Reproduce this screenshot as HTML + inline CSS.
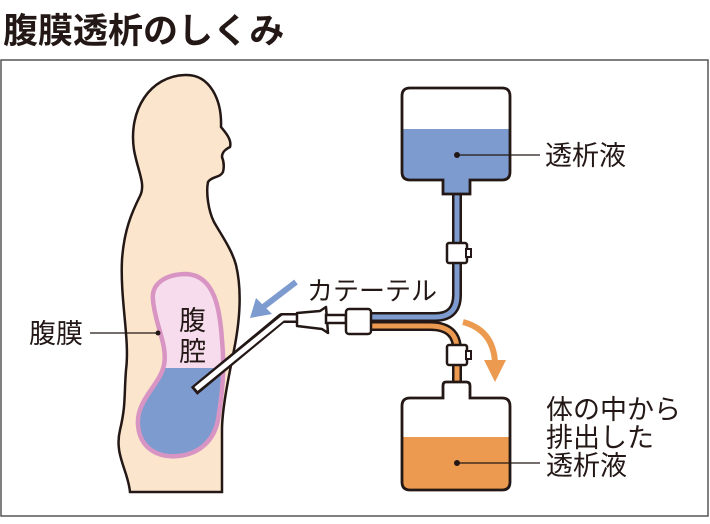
<!DOCTYPE html>
<html><head><meta charset="utf-8"><style>
body{margin:0;background:#fff;width:710px;height:524px;overflow:hidden}
svg{display:block}
text{font-family:"Liberation Sans","Noto Sans CJK JP",sans-serif;fill:#231815}
</style></head><body>
<svg width="710" height="524" viewBox="0 0 710 524">
<text x="3" y="43" font-size="35" font-weight="bold">腹膜透析のしくみ</text>
<rect x="1" y="60" width="707" height="456" fill="none" stroke="#555" stroke-width="1.5"/>
<!-- body -->
<path d="M130 492 C128 470 114 455 120 430 C126 405 124 395 126 370 C130 340 120 300 122 260 C124 230 132 212 140 196 C146 184 138 172 134 150 C128 110 150 76 185 75 C210 74 222 100 221 127 C226 133 232 140 230 147 C224 150 222 153 222 157 C224 162 224 168 223 172 C220 178 212 176 208 182 C206 192 208 210 214 222 C222 236 232 250 236 265 C242 290 240 320 234 350 C228 380 222 410 222 430 C222 460 222 480 222 492 Z" fill="#fbe5cc" stroke="#231815" stroke-width="2.5"/>
<!-- peritoneum -->
<defs><clipPath id="pc"><path d="M187 274 C165 274 151 284 153 300 C155 325 168 345 164 365 C160 385 136 400 138 425 C140 450 160 458 178 456 C200 454 214 440 218 420 C222 395 225 370 222 340 C220 310 215 276 187 274 Z"/></clipPath></defs>
<g clip-path="url(#pc)"><rect x="130" y="270" width="100" height="98" fill="#f6dcec"/><rect x="130" y="368" width="100" height="100" fill="#7d9bcf"/></g>
<path d="M187 274 C165 274 151 284 153 300 C155 325 168 345 164 365 C160 385 136 400 138 425 C140 450 160 458 178 456 C200 454 214 440 218 420 C222 395 225 370 222 340 C220 310 215 276 187 274 Z" fill="none" stroke="#d895c4" stroke-width="4.5"/>
<text x="179" y="330" font-size="27">腹</text>
<text x="179" y="361" font-size="27">腔</text>
<text x="29" y="343" font-size="27">腹膜</text>
<line x1="90" y1="333" x2="158" y2="333" stroke="#231815" stroke-width="1.2"/>
<circle cx="158" cy="333" r="2.5" fill="#231815"/>
<!-- catheter tube -->
<path d="M194 391 L282 318 L300 318" fill="none" stroke="#231815" stroke-width="10" stroke-linejoin="round"/>
<path d="M196 389 L283 318 L300 318" fill="none" stroke="#fff" stroke-width="5" stroke-linejoin="round"/>
<path d="M297 313 L320 311 L326 307 L328 333 L322 329 L297 326 Z" fill="#fff" stroke="#231815" stroke-width="2.5" stroke-linejoin="round"/>
<rect x="326" y="315" width="20" height="8" fill="#fff" stroke="#231815" stroke-width="2.5"/>
<!-- blue arrow -->
<line x1="296" y1="282" x2="262" y2="308" stroke="#7d9bcf" stroke-width="6"/>
<polygon points="250,318 256,298 272,314" fill="#7d9bcf"/>
<text x="307" y="300" font-size="26">カテーテル</text>
<!-- tubes -->
<path d="M457 195 L457 295 Q457 317 435 317 L370 317" fill="none" stroke="#231815" stroke-width="10"/>
<path d="M457 195 L457 295 Q457 317 435 317 L370 317" fill="none" stroke="#7d9bcf" stroke-width="5"/>
<path d="M370 326 L430 326 Q457 326 457 350 L457 385" fill="none" stroke="#231815" stroke-width="10"/>
<path d="M370 326 L430 326 Q457 326 457 350 L457 385" fill="none" stroke="#ec9a4f" stroke-width="5"/>
<rect x="346" y="309" width="25" height="25" rx="3" fill="#fff" stroke="#231815" stroke-width="2.5"/>
<rect x="447" y="243" width="20" height="20" rx="2" fill="#fff" stroke="#231815" stroke-width="2.5"/>
<rect x="466" y="249" width="5" height="8" fill="#fff" stroke="#231815" stroke-width="2"/>
<rect x="447" y="345" width="20" height="20" rx="2" fill="#fff" stroke="#231815" stroke-width="2.5"/>
<rect x="466" y="351" width="5" height="8" fill="#fff" stroke="#231815" stroke-width="2"/>
<!-- top bag -->
<defs><clipPath id="tb"><path d="M410 88 L502 88 Q510 88 510 96 L510 172 Q510 180 502 180 L470 180 L470 194 L443 194 L443 180 L410 180 Q402 180 402 172 L402 96 Q402 88 410 88 Z"/></clipPath>
<clipPath id="bb"><path d="M446 382 L466 382 Q470 382 470 386 L470 398 L502 398 Q510 398 510 406 L510 482 Q510 490 502 490 L410 490 Q402 490 402 482 L402 406 Q402 398 410 398 L443 398 L443 386 Q443 382 446 382 Z"/></clipPath></defs>
<g clip-path="url(#tb)"><rect x="400" y="80" width="115" height="120" fill="#fff"/><rect x="400" y="129" width="115" height="70" fill="#7d9bcf"/></g>
<path d="M410 88 L502 88 Q510 88 510 96 L510 172 Q510 180 502 180 L470 180 L470 194 L443 194 L443 180 L410 180 Q402 180 402 172 L402 96 Q402 88 410 88 Z" fill="none" stroke="#231815" stroke-width="2.8"/>
<circle cx="457" cy="155" r="3" fill="#231815"/><line x1="457" y1="155" x2="540" y2="155" stroke="#231815" stroke-width="1.2"/>
<text x="545" y="165" font-size="27">透析液</text>
<!-- bottom bag -->
<g clip-path="url(#bb)"><rect x="400" y="378" width="115" height="115" fill="#fff"/><rect x="400" y="437" width="115" height="60" fill="#ec9a4f"/></g>
<path d="M446 382 L466 382 Q470 382 470 386 L470 398 L502 398 Q510 398 510 406 L510 482 Q510 490 502 490 L410 490 Q402 490 402 482 L402 406 Q402 398 410 398 L443 398 L443 386 Q443 382 446 382 Z" fill="none" stroke="#231815" stroke-width="2.8"/>
<circle cx="457" cy="463" r="3" fill="#231815"/><line x1="457" y1="463" x2="540" y2="463" stroke="#231815" stroke-width="1.2"/>
<text x="546" y="419" font-size="27">体の中から</text>
<text x="546" y="447" font-size="27">排出した</text>
<text x="546" y="475" font-size="27">透析液</text>
<!-- orange arrow -->
<path d="M463 322 Q493 330 495 362" fill="none" stroke="#ec9a4f" stroke-width="6"/>
<polygon points="484,360 506,360 495,382" fill="#ec9a4f"/>
</svg>
</body></html>
